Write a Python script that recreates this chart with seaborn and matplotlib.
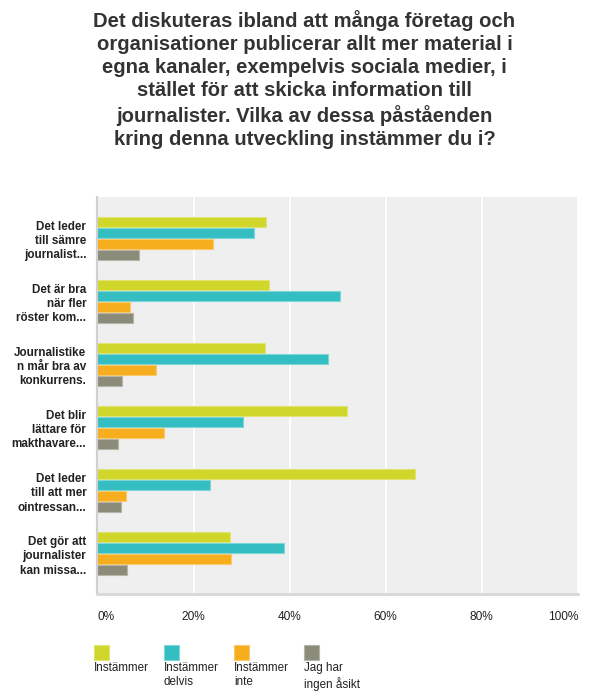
import pandas as pd
import numpy as np
import matplotlib
matplotlib.use('Agg')
from matplotlib import pyplot as plt
from matplotlib.patches import Rectangle
import matplotlib.colors as mcolors
import seaborn as sns

title = ('Det diskuteras ibland att många företag och\n'
         'organisationer publicerar allt mer material i\n'
         'egna kanaler, exempelvis sociala medier, i\n'
         'stället för att skicka information till\n'
         'journalister. Vilka av dessa påståenden\n'
         'kring denna utveckling instämmer du i?')

statements = ['Det leder\ntill sämre\njournalist...',
              'Det är bra\nnär fler\nröster kom...',
              'Journalistike\nn mår bra av\nkonkurrens.',
              'Det blir\nlättare för\nmakthavare...',
              'Det leder\ntill att mer\nointressan...',
              'Det gör att\njournalister\nkan missa...']

answers = ['Instämmer', 'Instämmer delvis', 'Instämmer inte', 'Jag har ingen åsikt']
answer_labels = ['Instämmer', 'Instämmer\ndelvis', 'Instämmer\ninte', 'Jag har\ningen åsikt']

instammer = [35.0, 35.7, 34.9, 52.0, 66.1, 27.5]
instammer_delvis = [32.5, 50.5, 48.0, 30.2, 23.4, 38.8]
instammer_inte = [24.1, 6.8, 12.2, 13.9, 5.9, 27.9]
ingen_asikt = [8.6, 7.4, 5.2, 4.3, 5.0, 6.1]

colors = ['#D0D62A', '#35BEC1', '#F7AE1E', '#8B8B7A']
xticks = [0, 20, 40, 60, 80, 100]

rows = []
for ans, vals in zip(answers, [instammer, instammer_delvis, instammer_inte, ingen_asikt]):
    for st, v in zip(statements, vals):
        rows.append({'statement': st, 'answer': ans, 'percent': v})
df = pd.DataFrame(rows)

plt.rcParams['font.family'] = ['Liberation Sans', 'DejaVu Sans']

fig = plt.figure(figsize=(6.09, 6.99), dpi=100)
ax = fig.add_axes([0.160, 0.150, 0.789, 0.568])

sns.barplot(data=df, y='statement', x='percent', hue='answer', order=statements,
            hue_order=answers, palette=colors, orient='h', width=0.7, gap=0.1,
            saturation=1, legend=False, ax=ax, errorbar=None)

for p in ax.patches:
    fc = np.array(mcolors.to_rgb(p.get_facecolor()))
    p.set_edgecolor(tuple(fc + (1 - fc) * 0.35))
    p.set_linewidth(0.8)

ax.set_facecolor('#EFEFEF')
ax.set_xlim(0, 100)
ax.set_ylim(5.64, -0.65)
ax.set_xticks(xticks)
ax.set_xticklabels([f'{t}%' for t in xticks], fontsize=8.6, color='#222222')
ax.tick_params(axis='x', length=0, pad=12)
ax.tick_params(axis='y', length=0, pad=8)
ax.set_yticklabels(statements, fontsize=8.4, fontweight='bold', color='#222222',
                   linespacing=1.25)
labels = ax.get_xticklabels()
labels[0].set_horizontalalignment('left')
labels[-1].set_horizontalalignment('right')
ax.grid(axis='x', color='white', linewidth=1.2)
ax.set_axisbelow(True)
ax.set_xlabel('')
ax.set_ylabel('')
for s in ['top', 'right']:
    ax.spines[s].set_visible(False)
ax.spines['left'].set_color('#D0D0D0')
ax.spines['left'].set_linewidth(1.5)
ax.spines['bottom'].set_color('#D8D8D8')
ax.spines['bottom'].set_linewidth(2)

fig.text(0.5, 0.986, title, ha='center', va='top', fontsize=14.6, fontweight='bold',
         color='#333333', linespacing=1.28)

for i, (lab, c) in enumerate(zip(answer_labels, colors)):
    x0 = (94 + 70 * i) / 609
    fig.add_artist(Rectangle((x0, 1 - 660 / 699), 15 / 609, 15 / 699,
                             transform=fig.transFigure, facecolor=c,
                             edgecolor=tuple(np.array(mcolors.to_rgb(c)) * 0.65 + 0.35), linewidth=0.8))
    fig.text(x0, 1 - 662 / 699, lab, ha='left', va='top', fontsize=8.4,
             color='#222222', linespacing=1.25)

fig.savefig('out.png', dpi=100)
